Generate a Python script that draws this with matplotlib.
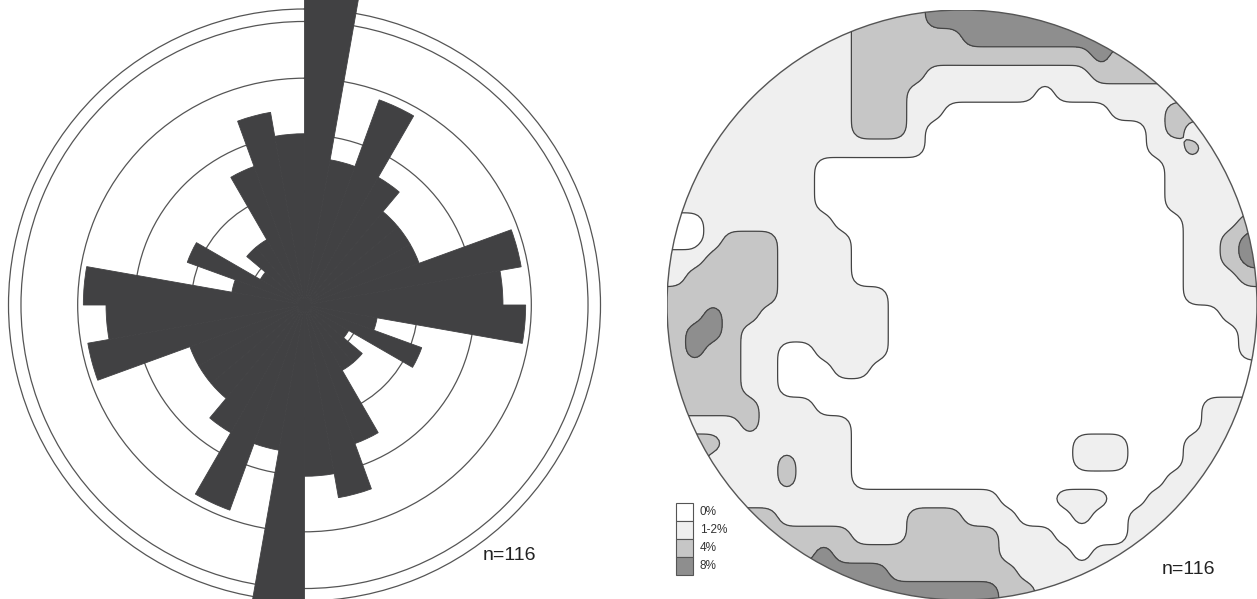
import numpy as np
import matplotlib
matplotlib.use('Agg')
import matplotlib.pyplot as plt
from matplotlib.patches import Circle, Rectangle

# rose diagram: 10 degree bins over 0-180, mirrored onto 180-360
bin_starts = np.arange(0, 180, 10)
rose_lengths = [5.8, 2.6, 3.85, 2.6, 2.15, 2.15, 2.15, 3.88, 3.5, 3.9,
                1.3, 2.2, 0.9, 1.33, 1.33, 2.6, 3.45, 3.02]
ring_values = [1, 2, 3, 4, 5]
rose_frame = 5.22

# stereonet density classes read on a 32 x 32 grid (row 0 = top)
# 0 = 0%, 1 = 1-2%, 2 = 4%, 3 = 8%
density_rows = [
    "11111111112222333333333333333333",
    "11111111112222223333333333333333",
    "11111111112222222222222322222222",
    "11111111112222111111111222222222",
    "11111111112221111111011111111111",
    "11111111112221100000000011122222",
    "11111111112221000000000000121111",
    "11111111111111000000000000112111",
    "11111111000000000000000000011111",
    "11111111000000000000000000011111",
    "11111111000000000000000000011111",
    "00111111100000000000000000001112",
    "00122211110000000000000000001123",
    "11222211110000000000000000001123",
    "12222211110000000000000000001112",
    "22222211111100000000000000001111",
    "22322111111100000000000000000011",
    "23321111111100000000000000000001",
    "23221100111100000000000000000001",
    "22221100011000000000000000000000",
    "22221100000000000000000000000000",
    "22222111000000000000000000000111",
    "11112111110000000000000000000111",
    "22211111110000000000001110001111",
    "22111121110000000000001110001111",
    "11111121110000000000000000011111",
    "11111111111111111100011100111111",
    "22222211111112221110001001111111",
    "22222222221112222211100001111111",
    "22222222322222222211110111111111",
    "33333333333322222221111111111111",
    "33333333333333333322111111111111",
]
class_labels = ['0%', '1-2%', '4%', '8%']
class_colors = ['#ffffff', '#efefef', '#c6c6c6', '#8e8e8e']
n_label = 'n=116'

W, H = 1257, 599
fig = plt.figure(figsize=(W / 100, H / 100), dpi=100)
plt.rcParams['font.family'] = ['Liberation Sans', 'DejaVu Sans']


def square_axes(cx, cy, r, **kw):
    # axes box given by centre and half-size in pixels from the top-left corner
    return fig.add_axes([(cx - r) / W, (H - cy - r) / H, 2 * r / W, 2 * r / H], **kw)


def refine(a, f):
    # bilinear resampling of a grid, f sub-steps per cell
    n0, n1 = a.shape
    s0 = np.linspace(0, n0 - 1, (n0 - 1) * f + 1)
    s1 = np.linspace(0, n1 - 1, (n1 - 1) * f + 1)
    rows = np.array([np.interp(s1, np.arange(n1), r) for r in a])
    return np.array([np.interp(s0, np.arange(n0), c) for c in rows.T]).T


def soften(a, sigma):
    # separable gaussian so the class boundaries come out rounded
    half = int(3 * sigma) + 1
    k = np.arange(-half, half + 1)
    g = np.exp(-0.5 * (k / sigma) ** 2)
    g /= g.sum()
    run = lambda v: np.convolve(np.pad(v, half, mode='edge'), g, mode='valid')
    a = np.apply_along_axis(run, 1, a)
    return np.apply_along_axis(run, 0, a)


# --- rose diagram ---
ax_rose = square_axes(304.5, 305, 296, projection='polar')
ax_rose.set_theta_zero_location('N')
ax_rose.set_theta_direction(-1)
theta = np.deg2rad(np.concatenate([bin_starts, bin_starts + 180]))
lengths = np.concatenate([rose_lengths, rose_lengths])
ax_rose.bar(theta, lengths, width=np.deg2rad(10), align='edge',
            color='#414143', edgecolor='#414143', linewidth=0.6,
            zorder=3, clip_on=False)
ax_rose.set_ylim(0, rose_frame)
ax_rose.set_yticks(ring_values)
ax_rose.set_yticklabels([])
ax_rose.set_xticks([])
ax_rose.grid(True, axis='y', color='#555555', linewidth=0.9)
ax_rose.spines['polar'].set_color('#555555')
ax_rose.spines['polar'].set_linewidth(0.9)

# --- contoured stereonet ---
ax_net = square_axes(962, 305, 295)
ax_net.set_xlim(-1, 1)
ax_net.set_ylim(-1, 1)
ax_net.set_aspect('equal')
ax_net.axis('off')

Z = np.array([[int(c) for c in row] for row in density_rows], dtype=float)
pad = 2
Zp = np.pad(Z, pad, mode='edge')  # carry the border cells out past the primitive circle
step = 2 / Z.shape[0]
coords = -1 + step / 2 + step * (np.arange(Zp.shape[0]) - pad)
sub = 6
Zs = soften(refine(Zp, sub), 0.28 * sub)
fine = np.linspace(coords[0], coords[-1], Zs.shape[0])
X, Y = np.meshgrid(fine, -fine)

clip = Circle((0, 0), 1, transform=ax_net.transData)
cf = ax_net.contourf(X, Y, Zs, levels=[-0.5, 0.5, 1.5, 2.5, 3.5], colors=class_colors)
cl = ax_net.contour(X, Y, Zs, levels=[0.5, 1.5, 2.5], colors='#444444', linewidths=0.9)
cf.set_clip_path(clip)
cl.set_clip_path(clip)
ax_net.add_patch(Circle((0, 0), 1, fill=False, edgecolor='#555555', linewidth=1.0))

# --- labels and legend in pixel coordinates ---
ax_txt = fig.add_axes([0, 0, 1, 1])
ax_txt.set_xlim(0, W)
ax_txt.set_ylim(H, 0)
ax_txt.axis('off')
ax_txt.patch.set_alpha(0)

for k, (lab, col) in enumerate(zip(class_labels, class_colors)):
    ax_txt.add_patch(Rectangle((676, 503 + 18 * k), 17, 18, facecolor=col,
                               edgecolor='#555555', linewidth=0.8))
    ax_txt.text(700, 512 + 18 * k, lab, fontsize=8.5, color='#333333',
                ha='left', va='center')

ax_txt.text(509, 556, n_label, fontsize=14, color='#222222', ha='center', va='center')
ax_txt.text(1188, 570, n_label, fontsize=14, color='#222222', ha='center', va='center')

fig.savefig('out.png', dpi=100)
